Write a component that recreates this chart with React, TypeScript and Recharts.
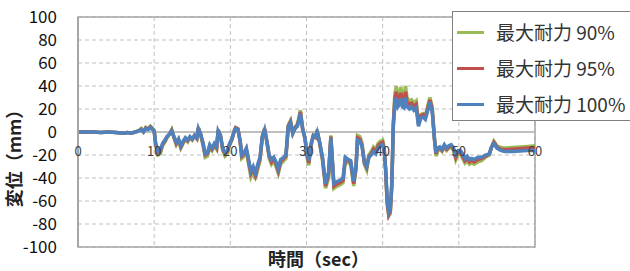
import React from 'react';
import { LineChart, Line, XAxis, YAxis, CartesianGrid, ReferenceLine, ReferenceArea, Legend } from 'recharts';

const times = [0,1,2,3,4,5,6,6.5,7,7.5,8,8.3,8.6,8.9,9.2,9.5,9.8,10.0,10.2,10.5,10.8,11.1,11.4,11.7,12.0,12.3,12.6,12.9,13.2,13.5,13.8,14.1,14.4,14.7,15.0,15.3,15.6,15.8,16.1,16.4,16.7,17.0,17.3,17.6,17.9,18.2,18.4,18.7,19.0,19.3,19.6,19.9,20.2,20.5,20.7,21.0,21.3,21.5,21.8,22.1,22.4,22.7,23.0,23.3,23.6,23.9,24.2,24.5,24.8,25.1,25.4,25.7,26.0,26.3,26.6,27.0,27.3,27.6,27.9,28.2,28.5,28.8,29.0,29.2,29.5,29.8,30.1,30.3,30.6,30.9,31.2,31.4,31.7,32.1,32.5,32.9,33.2,33.6,34.0,34.4,34.8,35.1,35.5,35.8,36.2,36.5,36.7,37.0,37.3,37.6,37.9,38.2,38.5,38.8,39.1,39.4,39.7,40.0,40.2,40.4,40.6,40.8,41.0,41.2,41.4,41.6,41.8,42.0,42.2,42.4,42.6,42.8,43.0,43.2,43.5,43.8,44.1,44.4,44.7,45.0,45.3,45.6,45.9,46.2,46.5,46.8,47.0,47.2,47.5,47.8,48.1,48.4,48.7,49.0,49.3,49.6,49.9,50.2,50.5,50.8,51.1,51.4,51.7,52.0,52.5,53.0,53.5,54.0,54.3,54.6,55.0,55.5,56.0,57.0,58.0,59.0,60.0];

const blue100 = [0,0,0,-0.5,0,-0.5,-1,-0.5,-1,0,1,2,0,3,2,4,2,1,-10,-17,-16,-10,-7,-4,-2,1,-4,-9,-6,-12,-8,-5,-7,-4,-6,-3,-5,3,-2,-9,-19,-18,-11,-14,-10,-13,1,-3,-14,-18,-16,-10,-6,0,3,2,-8,-20,-18,-14,-24,-34,-30,-36,-28,-22,-4,2,-8,-20,-24,-22,-26,-32,-24,-22,-20,4,8,-1,3,5,10,16,2,-5,-20,-25,-10,-3,-4,0,-8,-22,-45,-35,-5,-45,-43,-42,-40,-22,-24,-25,-43,-30,-7,-8,-13,-26,-30,-22,-20,-17,-19,-14,-12,-11,-16,-33,-60,-70,-67,-45,5,25,30,22,24,29,22,21,30,22,20,22,19,21,5,12,13,11,18,26,18,-6,-18,-14,-13,-15,-11,-14,-12,-11,-14,-20,-16,-16,-19,-23,-21,-24,-23,-24,-22,-22,-20,-19,-13,-10,-14,-16,-17,-17,-16.5,-16,-16];

const red95 = [0,0,0,-0.5,0,-0.5,-1,-0.5,-1,0,1,2.5,0,3.5,2.5,4.5,2.5,1,-11,-18,-17,-11,-8,-4,-2,1.5,-4.5,-10,-6.5,-13,-9,-5.5,-7.5,-4.5,-6.5,-3,-5.5,3.5,-2,-10,-20,-19,-12,-15,-11,-14,1.5,-3,-15,-19,-17,-11,-6.5,0.5,3.5,2.5,-8.5,-21,-19,-15,-26,-36,-32,-38,-30,-23,-4,2.5,-8.5,-21,-26,-23,-28,-34,-26,-23,-21,5,9,-1,3.5,6,11,17.5,2.5,-5.5,-21,-27,-11,-3,-4.5,1,-8.5,-23,-47,-37,-4,-47,-45,-44,-42,-23,-25,-26,-45,-31,-5,-6,-12,-27,-31,-21,-19,-15,-17,-12,-10,-9,-15,-34,-62,-72,-69,-46,6,29,35,26,28,34,26,25,35,26,24,25,22,24,7,14,15,13,20,28,20,-6,-19,-15,-14,-16,-12,-15,-13,-12,-15,-22,-17,-17,-21,-25,-23,-26,-25,-26,-24,-23,-21,-19,-13,-9,-13,-15,-15.5,-15,-14.5,-14,-14];

const green90 = [0,0,0,-0.5,0,-0.5,-1,-0.5,-1,0,1.5,3,0.5,4,3,5,3,1.5,-12,-20,-19,-12,-9,-5,-2,2,-5,-11,-7,-14,-10,-6,-8.5,-5,-7,-3.5,-6,4,-2.5,-11,-22,-21,-13,-16,-12,-15,2,-3.5,-16,-21,-19,-12,-7,1,4,3,-9,-23,-21,-16,-28,-39,-34,-41,-32,-25,-4.5,3,-9,-23,-28,-25,-30,-36,-28,-25,-23,6,10,-1,4,7,12.5,19,3,-6,-23,-29,-12,-3.5,-5,2,-9,-25,-49,-40,-3,-49,-47,-46,-44,-24,-27,-28,-47,-33,-3,-4,-10,-28,-33,-20,-17,-13,-15,-10,-8,-7,-14,-35,-63,-73,-71,-47,8,33,40,30,32,39,30,29,40,30,27,28,25,27,8,15,16,14,22,30,22,-6,-21,-17,-15,-17,-13,-16,-14,-13,-16,-24,-19,-19,-23,-27,-25,-28,-27,-28,-26,-25,-22,-20,-13,-8,-12,-13.5,-14,-13.5,-13,-12.5,-12];

const seriesNames = ['最大耐力 90%', '最大耐力 95%', '最大耐力 100%'];
const seriesColors = ['#9BBB59', '#C0504D', '#4F81BD'];
const xTicks = [0, 10, 20, 30, 40, 50, 60];
const yTicks = [-100, -80, -60, -40, -20, 0, 20, 40, 60, 80, 100];
const xTitle = '時間（sec）';
const yTitle = '変位（mm）';

const data = times.map((t, i) => ({ t, g: green90[i], r: red95[i], b: blue100[i] }));

const FONT = "'Noto Sans CJK JP', 'Noto Sans', sans-serif";

const XTick = (props: any) => {
  const { x, y, payload } = props;
  return (
    <text x={x} y={y - 97} textAnchor="middle" dominantBaseline="central" fontSize={13} fill="#404040" fontFamily={FONT}>
      {payload.value}
    </text>
  );
};

const renderLegend = (props: any) => {
  const payload = [...(props.payload || [])].sort(
    (a: any, b: any) => seriesNames.indexOf(a.value) - seriesNames.indexOf(b.value)
  );
  return (
    <div style={{ width: 200, height: 110, border: '1px solid #808080', background: '#fff', boxSizing: 'border-box', paddingTop: 2 }}>
      {payload.map((p: any, i: number) => (
        <div key={i} style={{ display: 'flex', alignItems: 'center', height: 36 }}>
          <div style={{ width: 27, height: 3, background: p.color, marginLeft: 4, marginRight: 12 }} />
          <span style={{ fontSize: 19, color: '#333', fontFamily: FONT, lineHeight: '36px' }}>{p.value}</span>
        </div>
      ))}
    </div>
  );
};

export default function App() {
  return (
    <div style={{ position: 'absolute', left: 0, top: 0, width: 630, height: 271, background: '#fff' }}>
      <LineChart width={630} height={271} data={data} margin={{ top: 17, right: 95, left: 0, bottom: 0 }}>
        <CartesianGrid stroke="#BFBFBF" strokeDasharray="4 3" />
        <ReferenceArea x1={0} x2={60} y1={-100} y2={100} fill="none" stroke="#A6A6A6" strokeWidth={1.5} />
        <ReferenceLine y={0} stroke="#BFBFBF" strokeWidth={2} />
        <XAxis
          dataKey="t"
          type="number"
          domain={[0, 60]}
          ticks={xTicks}
          tickLine={false}
          axisLine={false}
          tickSize={0}
          tickMargin={0}
          height={24}
          tick={<XTick />}
          interval={0}
          label={{
            content: (p: any) => {
              const vb = p.viewBox;
              return (
                <text x={vb.x + vb.width / 2 + 12} y={266} textAnchor="middle" fontSize={18} fontWeight="bold" fill="#222" fontFamily={FONT}>
                  {xTitle}
                </text>
              );
            },
          }}
        />
        <YAxis
          type="number"
          domain={[-100, 100]}
          ticks={yTicks}
          width={78}
          tickLine={false}
          tickSize={6}
          tickMargin={15}
          interval={0}
          axisLine={{ stroke: '#A6A6A6', strokeWidth: 2 }}
          tick={{ fontSize: 17, fill: '#111', fontFamily: FONT }}
          label={{
            content: (p: any) => {
              const vb = p.viewBox;
              const cy = vb.y + vb.height / 2 + 22;
              return (
                <text x={13} y={cy} transform={`rotate(-90, 13, ${cy})`} textAnchor="middle" dominantBaseline="central" fontSize={18} fontWeight="bold" fill="#222" fontFamily={FONT}>
                  {yTitle}
                </text>
              );
            },
          }}
        />
        <Line type="linear" dataKey="g" name={seriesNames[0]} stroke={seriesColors[0]} strokeWidth={3.5} dot={false} isAnimationActive={false} />
        <Line type="linear" dataKey="r" name={seriesNames[1]} stroke={seriesColors[1]} strokeWidth={3.5} dot={false} isAnimationActive={false} />
        <Line type="linear" dataKey="b" name={seriesNames[2]} stroke={seriesColors[2]} strokeWidth={3.5} dot={false} isAnimationActive={false} />
        <Legend
          layout="horizontal"
          verticalAlign="middle"
          align="center"
          content={renderLegend}
          wrapperStyle={{ position: 'absolute', left: 452, top: 11, width: 200, height: 110, margin: 0 }}
        />
      </LineChart>
    </div>
  );
}
